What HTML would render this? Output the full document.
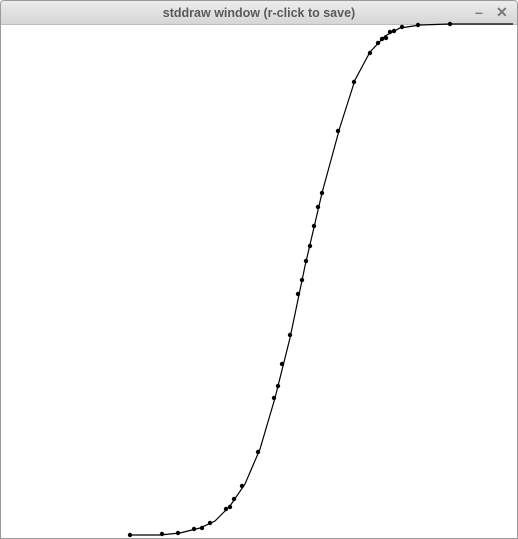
<!DOCTYPE html>
<html><head><meta charset="utf-8"><style>
html,body{margin:0;padding:0;width:518px;height:539px;overflow:hidden;background:#fff;font-family:"Liberation Sans",sans-serif}
#win{position:absolute;left:0;top:0;width:516px;height:537px;border:1px solid #9a9a9a;border-radius:4px 4px 0 0;background:#fff}
#bar{position:absolute;left:0;top:0;width:516px;height:23px;background:linear-gradient(#ececec,#d6d6d6);border-bottom:1px solid #bdbdbd;border-radius:4px 4px 0 0}
#title{position:absolute;left:0;right:0;top:5px;text-align:center;font-size:12.5px;font-weight:bold;color:#5a5a5a}
.btn{position:absolute;top:3px;font-size:14px;color:#777;font-weight:bold}
svg{position:absolute;left:0;top:0}
</style></head><body>
<div id="win">
<div id="bar">
<div id="title">stddraw window (r-click to save)</div>
<div class="btn" style="left:474px">–</div>
<div class="btn" style="left:495px">✕</div>
</div></div>
<svg id="chart" width="518" height="539"></svg>
<script>
// data in plot units (x: 0..508, y: 0..511 measured upward from bottom)
const sampleX=[125,157,173,189,197,205,221,225,229,237,253,269,273,277,285,293,297,301,305,309,313,317,333,349,365,373,377,381,385,389,397,413,445];
const sampleY=[0,1,2,6,7,12,26,28,36,49,83,137,149,171,200,241,255,274,289,309,328,342,404,453,482,492,496,497,503,504,508,510,511];
const curveX=[125,155,175,195,210,225,240,255,270,285,300,317,335,350,365,380,395,415,445,508];
const curveY=[0,0,2,7,14,29,51,86,137,197,269,342,408,455,483,499,507,510,511,511];
const X0=5,YB=535;
const sx=v=>X0+v, sy=v=>YB-v;
const svg=document.getElementById('chart');
const NS='http://www.w3.org/2000/svg';
const pl=document.createElementNS(NS,'polyline');


pl.setAttribute('points',curveX.map((x,i)=>sx(x)+','+sy(curveY[i])).join(' '));
pl.setAttribute('fill','none');pl.setAttribute('stroke','#000');pl.setAttribute('stroke-width','1.2');
svg.appendChild(pl);
sampleX.forEach((x,i)=>{
 const c=document.createElementNS(NS,'circle');
 
 
 c.setAttribute('cx',sx(x));c.setAttribute('cy',sy(sampleY[i]));c.setAttribute('r','2.2');c.setAttribute('fill','#000');
 svg.appendChild(c);
});
</script>
</body></html>
